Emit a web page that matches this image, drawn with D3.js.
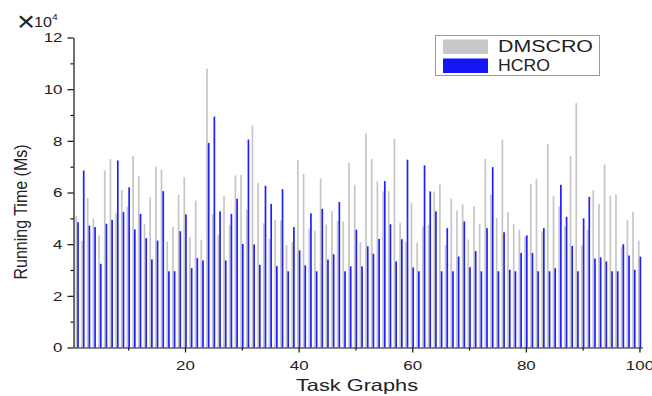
<!DOCTYPE html>
<html><head><meta charset="utf-8">
<script src="https://cdn.jsdelivr.net/npm/d3@7"></script>
<style>
body{margin:0;background:#fff}
svg{display:block}
text{font-family:"Liberation Sans",Arial,Helvetica,sans-serif;fill:#222}
</style>
</head><body>
<svg id="chart" width="652" height="396"></svg>
<script>
// ---- data (values in units of 10^4 ms) ----
const taskGraphs = d3.range(1, 101);
const dmscro = [
  5.10,4.12,5.78,5.00,4.34,6.85,7.30,5.19,6.10,5.46,
  7.41,6.65,4.79,5.82,7.00,6.88,4.10,4.66,5.91,6.59,
  4.27,5.69,4.17,10.79,5.16,4.37,5.86,4.75,6.66,6.68,
  5.33,8.59,6.37,4.81,4.20,4.94,4.92,3.97,4.08,7.26,
  6.72,4.60,4.53,6.54,4.76,5.28,4.90,4.88,7.15,6.30,
  4.08,8.30,7.30,6.43,6.04,6.05,8.07,4.82,4.08,5.61,
  4.06,4.68,4.75,6.04,6.31,3.97,5.76,5.30,5.54,4.18,
  5.47,4.79,7.30,5.91,5.02,8.05,5.24,4.79,4.56,4.30,
  6.33,6.53,4.50,7.88,5.85,5.46,4.68,7.41,9.46,3.95,
  4.55,6.09,5.56,7.08,5.88,5.92,3.90,4.92,5.26,4.14
];
const hcro = [
  4.85,6.85,4.72,4.66,3.24,4.79,4.94,7.24,5.24,6.20,
  4.57,5.17,4.23,3.41,4.14,6.05,2.95,2.95,4.50,5.15,
  3.07,3.46,3.37,7.92,8.94,5.27,3.37,5.17,5.76,4.01,
  8.05,3.99,3.20,6.26,5.56,3.15,6.13,2.95,4.66,3.76,
  3.18,5.19,2.95,5.37,3.40,3.61,5.63,2.95,3.14,4.56,
  3.14,3.92,3.63,4.20,6.44,4.77,3.33,4.19,7.27,3.10,
  2.95,7.05,6.04,5.27,2.95,4.62,2.95,3.52,4.88,3.11,
  3.73,2.95,4.62,6.98,2.95,4.46,3.01,2.95,3.66,4.34,
  3.66,2.95,4.62,2.95,3.07,6.30,5.06,3.93,2.95,5.00,
  5.83,3.44,3.49,3.33,2.95,2.95,4.00,3.56,3.01,3.52
];
const seriesNames = ["DMSCRO", "HCRO"];
const seriesColors = ["#c6c6c6", "#2020ff"];
const yMajorTicks = [0, 2, 4, 6, 8, 10, 12];
const yMinorTicks = [1, 3, 5, 7, 9, 11];
const xMajorTicks = [20, 40, 60, 80, 100];
const xMinorTicks = [10, 30, 50, 70, 90];
const xTitle = "Task Graphs";
const yTitle = "Running Time (Ms)";
const exponent = "4";

// ---- layout ----
const svg = d3.select("#chart");
const x = d3.scaleLinear().domain([0.37, 100.5]).range([73.5, 642.3]);
const y = d3.scaleLinear().domain([0, 12]).range([347.5, 37.5]);
const barW = 1.7;

function stretch(sel, f) {
  sel.each(function () {
    const w = this.getComputedTextLength();
    this.setAttribute("textLength", w * f);
    this.setAttribute("lengthAdjust", "spacingAndGlyphs");
  });
}

// bars
const series = [dmscro, hcro];
const offsets = [-1.6, 0.1];
series.forEach((vals, si) => {
  svg.append("g").selectAll("rect")
    .data(taskGraphs)
    .join("rect")
    .attr("x", (c) => x(c) + offsets[si])
    .attr("width", barW)
    .attr("y", (c, i) => y(vals[i]))
    .attr("height", (c, i) => y(0) - y(vals[i]))
    .attr("fill", seriesColors[si]);
});

// y axis
const gy = svg.append("g").attr("transform", "translate(73.5,0)");
gy.call(d3.axisLeft(y).tickValues(yMajorTicks).tickSize(6).tickPadding(5).tickSizeOuter(0));
const gym = svg.append("g").attr("transform", "translate(73.5,0)");
gym.call(d3.axisLeft(y).tickValues(yMinorTicks).tickSize(3).tickFormat("").tickSizeOuter(0));
gym.select(".domain").remove();

// x axis
const gx = svg.append("g").attr("transform", "translate(0,347.5)");
gx.call(d3.axisBottom(x).tickValues(xMajorTicks).tickSize(5).tickPadding(8).tickSizeOuter(0));
const gxm = svg.append("g").attr("transform", "translate(0,347.5)");
gxm.call(d3.axisBottom(x).tickValues(xMinorTicks).tickSize(3).tickFormat("").tickSizeOuter(0));
gxm.select(".domain").remove();

svg.selectAll(".domain, .tick line").attr("stroke", "#111").attr("stroke-width", 1.2);
svg.selectAll(".tick text").attr("font-size", "13px").attr("fill", "#222")
  .attr("font-family", "Liberation Sans, Arial, sans-serif");
stretch(svg.selectAll(".tick text"), 1.3);

// axis titles
const xt = svg.append("text")
  .attr("x", 357).attr("y", 391)
  .attr("text-anchor", "middle").attr("font-size", "16.5px")
  .text(xTitle);
xt.attr("textLength", 122).attr("lengthAdjust", "spacingAndGlyphs");

svg.append("text")
  .attr("transform", "translate(27,212) scale(1.2,1) rotate(-90)")
  .attr("text-anchor", "middle").attr("font-size", "16px")
  .text(yTitle);

// exponent label
const ex = svg.append("text")
  .attr("transform", "translate(17,26.5) scale(1.15,1)");
ex.append("tspan").attr("font-size", "27px").attr("dy", 4).text("\u00D7");
ex.append("tspan").attr("font-size", "14px").attr("dx", -1).attr("dy", -4).text("10");
ex.append("tspan").attr("font-size", "9px").attr("dy", -7).text(exponent);

// legend
const lg = svg.append("g");
lg.append("rect").attr("x", 435.5).attr("y", 35.5).attr("width", 164).attr("height", 40)
  .attr("fill", "#fff").attr("stroke", "#9a9a9a").attr("stroke-width", 1);
const legendLens = [95, 52];
seriesNames.forEach((n, i) => {
  lg.append("rect").attr("x", 443).attr("y", 39.5 + i * 19).attr("width", 45).attr("height", 14.5)
    .attr("fill", i === 0 ? "#c8c8c8" : "#1515f5");
  lg.append("text").attr("x", 498).attr("y", 52 + i * 18.5)
    .attr("font-size", "16px").attr("textLength", legendLens[i])
    .attr("lengthAdjust", "spacingAndGlyphs").text(n);
});
</script>
</body></html>
